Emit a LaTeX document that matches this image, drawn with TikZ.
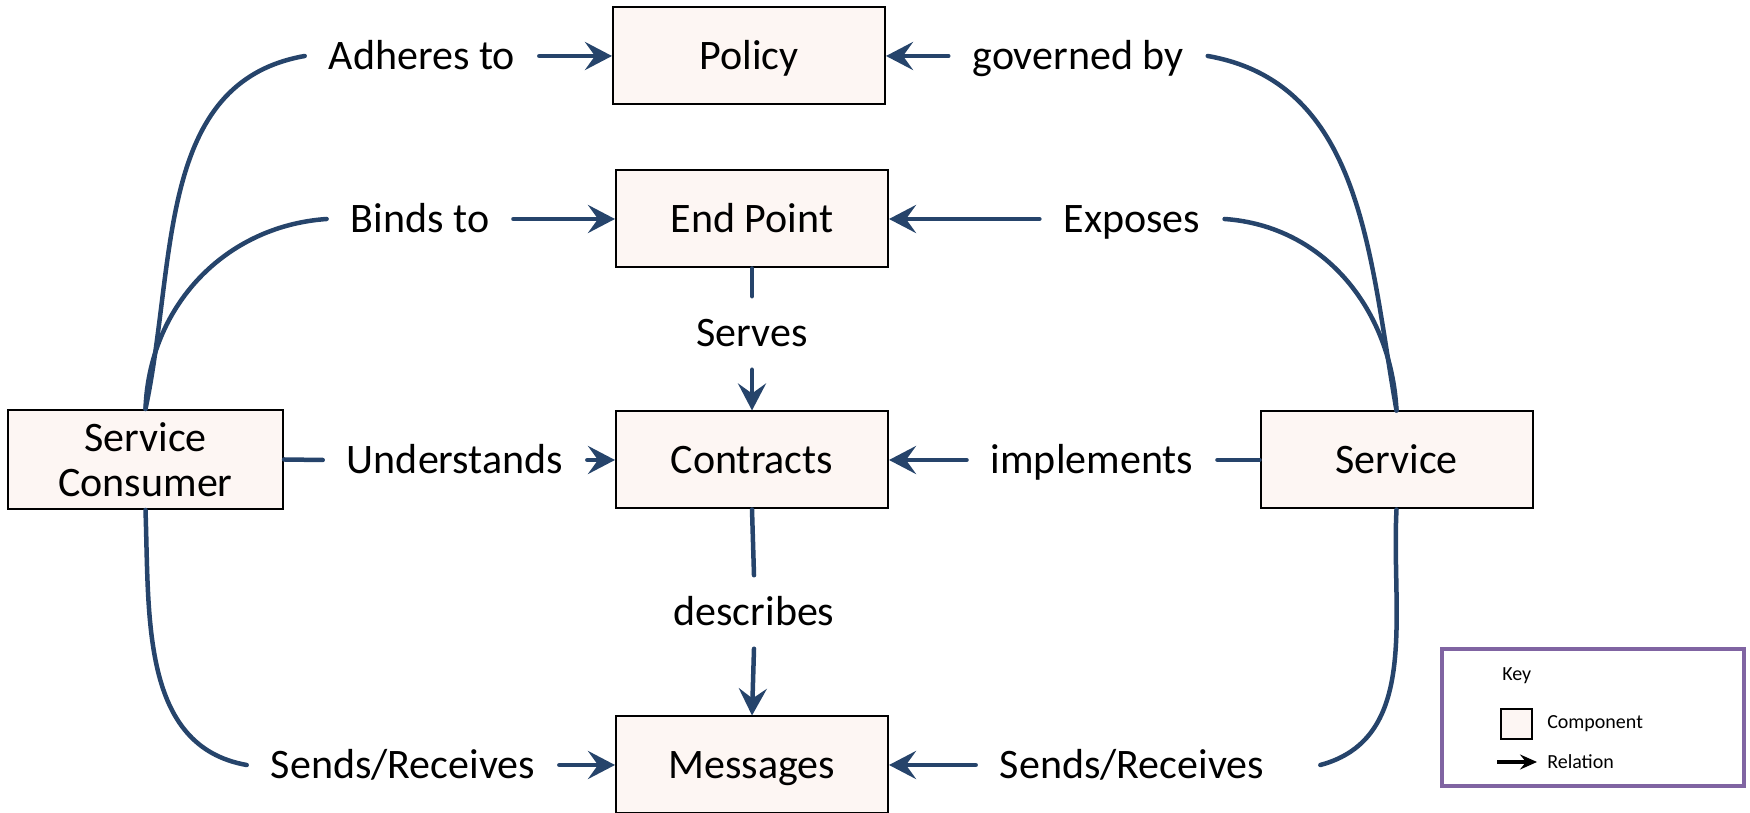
\documentclass[tikz,border=0pt]{standalone}
\usepackage{fontspec}
\setmainfont{Carlito}
\usetikzlibrary{arrows.meta}

\definecolor{linkblue}{RGB}{38,68,107}
\definecolor{boxfill}{RGB}{253,246,243}
\definecolor{keypurple}{RGB}{128,100,162}

\begin{document}
\begin{tikzpicture}[x=1pt, y=1pt, line width=4.5pt,
  box/.style={draw=black, line width=2pt, fill=boxfill, minimum width=272pt,
    minimum height=97pt, align=center, font=\fontsize{42}{45}\selectfont},
  onerow/.style={text height=30pt, text depth=3pt},
  rel/.style={font=\fontsize{42}{45}\selectfont, onerow, inner xsep=22pt, inner ysep=18pt},
  keytext/.style={font=\fontsize{20}{24}\selectfont, inner sep=4pt, anchor=west},
  link/.style={draw=linkblue, line cap=round},
  tobox/.style={link, -{Stealth[length=27pt, width=28pt, inset=10pt]}}]

\useasboundingbox (0,0) rectangle (1750,813);

% components
\node[box, onerow] (policy) at (749,757) {Policy};
\node[box, onerow] (endpoint) at (752,594) {End Point};
\node[box, onerow] (contracts) at (752,353) {Contracts};
\node[box, onerow] (messages) at (752,48) {Messages};
\node[box, minimum width=275pt, minimum height=99pt] (consumer) at (145.5,353.5) {Service\\Consumer};
\node[box, onerow] (service) at (1396.5,353) {Service};

% relation labels
\node[rel] (adheres) at (422,757) {Adheres to};
\node[rel] (binds) at (420,594) {Binds to};
\node[rel] (understands) at (455,353) {Understands};
\node[rel] (sendsL) at (403,48) {Sends/Receives};
\node[rel] (governed) at (1078,757) {governed by};
\node[rel] (exposes) at (1132,594) {Exposes};
\node[rel] (implements) at (1092,353) {implements};
\node[rel] (sendsR) at (1132,48) {Sends/Receives};
\node[rel] (serves) at (752,480) {Serves};
\node[rel] (describes) at (754,201) {describes};
\coordinate (sendsRend) at ([xshift=32pt]sendsR.east);

% consumer side
\draw[link] (consumer.north) to[out=78, in=190] (adheres.west);
\draw[tobox] (adheres.east) -- (policy.west);
\draw[link] (consumer.north) to[out=88, in=184] (binds.west);
\draw[tobox] (binds.east) -- (endpoint.west);
\draw[link] (consumer.east) -- (understands.west);
\draw[tobox] (understands.east) -- (contracts.west);
\draw[link] (consumer.south) to[out=-88, in=170] (sendsL.west);
\draw[tobox] (sendsL.east) -- (messages.west);

% service side
\draw[link] (service.north) to[out=100, in=-10] (governed.east);
\draw[tobox] (governed.west) -- (policy.east);
\draw[link] (service.north) to[out=93, in=-4] (exposes.east);
\draw[tobox] (exposes.west) -- (endpoint.east);
\draw[link] (service.west) -- (implements.east);
\draw[tobox] (implements.west) -- (contracts.east);
\draw[link] (service.south) to[out=-93, in=15] (sendsRend);
\draw[tobox] (sendsR.west) -- (messages.east);

% middle column
\draw[link] (endpoint.south) -- (serves.north);
\draw[tobox] (serves.south) -- (contracts.north);
\draw[link] (contracts.south) -- (describes.north);
\draw[tobox] (describes.south) -- (messages.north);

% key
\node[draw=keypurple, line width=3.5pt, minimum width=302pt, minimum height=137pt] (key) at (1593,95.5) {};
\node[keytext] (keytitle) at (1496,137) {Key};
\node[box, minimum width=31pt, minimum height=30pt, line width=1.5pt] (keycomp) at (1516.5,89) {};
\node[keytext] (comptext) at (1541,89) {Component};
\coordinate (relA) at (1497,51);
\coordinate (relB) at (1537,51);
\draw[line width=3.5pt, -{Stealth[length=17pt, width=15pt, inset=6pt]}] (relA) -- (relB);
\node[keytext] (reltext) at (1541,51) {Relation};

\end{tikzpicture}
\end{document}
